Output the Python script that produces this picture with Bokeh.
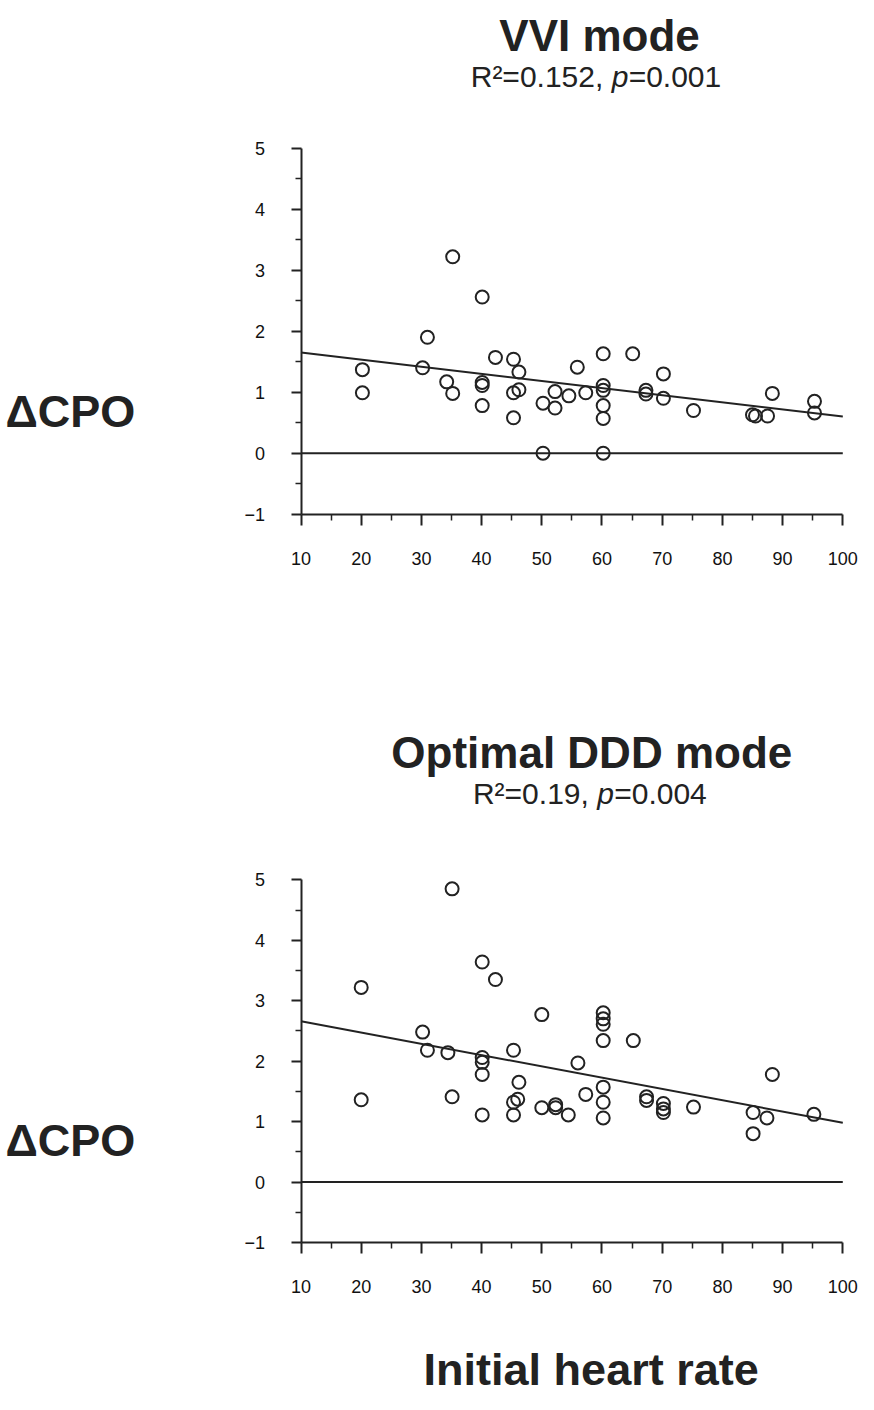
from bokeh.plotting import figure
from bokeh.models import Label, FixedTicker, Range1d, LinearAxis
from bokeh.layouts import column
from bokeh.embed import file_html
from bokeh.resources import INLINE

FONT = "Liberation Sans"
INK = "#222222"

x_ticks = [10, 20, 30, 40, 50, 60, 70, 80, 90, 100]
x_minor = [15, 25, 35, 45, 55, 65, 75, 85, 95]
y_ticks = [-1, 0, 1, 2, 3, 4, 5]
y_minor = [-0.5, 0.5, 1.5, 2.5, 3.5, 4.5]

# VVI mode panel
vvi_hr = [20.2, 20.2, 30.2, 31.0, 34.2, 35.2, 35.2, 40.1, 40.1, 40.1, 40.1,
          42.3, 45.3, 45.3, 45.3, 46.2, 46.2, 50.2, 50.2, 52.2, 52.2, 54.5,
          55.9, 57.3, 60.2, 60.2, 60.2, 60.2, 60.2, 60.2, 65.1, 67.3, 67.3,
          70.2, 70.2, 75.2, 85.0, 85.5, 87.5, 88.3, 95.3, 95.3]
vvi_dcpo = [1.37, 0.99, 1.40, 1.90, 1.17, 3.22, 0.98, 2.56, 1.16, 1.11, 0.78,
            1.57, 1.54, 0.99, 0.58, 1.33, 1.04, 0.82, 0.0, 1.01, 0.74, 0.94,
            1.41, 0.99, 1.63, 1.11, 1.03, 0.78, 0.57, 0.0, 1.63, 1.03, 0.97,
            1.30, 0.90, 0.70, 0.63, 0.61, 0.61, 0.98, 0.85, 0.66]
vvi_fit_hr = [10, 100]
vvi_fit_dcpo = [1.65, 0.60]

# Optimal DDD mode panel
ddd_hr = [20.0, 20.0, 35.1, 35.1, 30.2, 31.0, 34.4, 40.1, 40.1, 40.1, 40.1,
          40.1, 42.3, 45.3, 45.3, 45.3, 46.2, 46.0, 50.0, 50.0, 52.3, 52.3,
          54.4, 56.0, 57.3, 60.2, 60.2, 60.2, 60.2, 60.2, 60.2, 60.2, 65.2,
          67.4, 67.4, 70.2, 70.2, 70.2, 75.2, 85.1, 85.1, 87.4, 88.3, 95.2]
ddd_dcpo = [3.22, 1.36, 4.85, 1.41, 2.48, 2.18, 2.14, 3.64, 2.06, 1.98, 1.78,
            1.11, 3.35, 2.18, 1.32, 1.11, 1.65, 1.37, 2.77, 1.23, 1.28, 1.23,
            1.11, 1.97, 1.45, 2.80, 2.70, 2.61, 2.34, 1.57, 1.32, 1.06, 2.34,
            1.41, 1.35, 1.30, 1.21, 1.15, 1.24, 1.15, 0.80, 1.06, 1.78, 1.12]
ddd_fit_hr = [10, 100]
ddd_fit_dcpo = [2.66, 0.98]

titles = ["VVI mode", "Optimal DDD mode"]
stats_a = ["R\u00b2=0.152, ", "R\u00b2=0.19, "]
stats_p = ["p", "p"]
stats_b = ["=0.001", "=0.004"]
y_label = "\u0394CPO"
x_label = "Initial heart rate"

X_AXIS = (10, 100)
Y_AXIS = (-1, 5)
X_VIEW = (-39.92, 102.61)


def make_panel(hr, dcpo, fit_x, fit_y, title, sa, sp, sb, height,
               yr, title_pos, stat_pos, ylab_y, xlabel_y=None):
    p = figure(width=858, height=height, output_backend="svg",
               toolbar_location=None,
               x_range=Range1d(*X_VIEW), y_range=Range1d(*yr),
               x_axis_location=None, y_axis_location=None,
               min_border_left=0, min_border_right=0,
               min_border_top=0, min_border_bottom=0)
    p.outline_line_color = None
    p.grid.visible = False
    p.background_fill_color = "white"
    p.border_fill_color = "white"

    xaxis = LinearAxis(fixed_location=Y_AXIS[0], bounds=X_AXIS,
                       ticker=FixedTicker(ticks=x_ticks, minor_ticks=x_minor))
    yaxis = LinearAxis(fixed_location=X_AXIS[0], bounds=Y_AXIS,
                       ticker=FixedTicker(ticks=y_ticks, minor_ticks=y_minor))
    for ax in (xaxis, yaxis):
        ax.axis_line_width = 2
        ax.axis_line_color = INK
        ax.major_tick_line_width = 2
        ax.minor_tick_line_width = 1.5
        ax.major_tick_line_color = INK
        ax.minor_tick_line_color = INK
        ax.major_tick_in = 0
        ax.minor_tick_in = 0
        ax.major_label_text_font = FONT
        ax.major_label_text_font_size = "18px"
        ax.major_label_text_color = "#111111"
    xaxis.major_tick_out = 11
    xaxis.minor_tick_out = 6
    xaxis.major_label_standoff = 27
    yaxis.major_tick_out = 10
    yaxis.minor_tick_out = 6
    yaxis.major_label_standoff = 26
    p.add_layout(xaxis, "below")
    p.add_layout(yaxis, "left")

    # zero reference line across the axis extent
    p.line(list(X_AXIS), [0, 0], line_color=INK, line_width=2)
    p.line(fit_x, fit_y, line_color=INK, line_width=2)
    p.scatter(hr, dcpo, marker="circle", size=13, fill_color=None,
              line_color=INK, line_width=2)

    p.add_layout(Label(x=title_pos[0], y=title_pos[1], text=title,
                       text_font=FONT, text_font_style="bold",
                       text_font_size="44px", text_align="center",
                       text_baseline="alphabetic", text_color=INK))
    sx, sy = stat_pos
    common = dict(y=sy, text_font=FONT, text_font_size="30px",
                  text_baseline="alphabetic", text_color=INK)
    p.add_layout(Label(x=sx, text=sa, text_align="right", **common))
    p.add_layout(Label(x=sx, text=sp, text_align="left",
                       text_font_style="italic", **common))
    p.add_layout(Label(x=sx, x_offset=17, text=sb, text_align="left",
                       **common))
    p.add_layout(Label(x=-39.1, y=ylab_y, text=y_label, text_font=FONT,
                       text_font_style="bold", text_font_size="45px",
                       text_align="left", text_baseline="alphabetic",
                       text_color=INK))
    if xlabel_y is not None:
        p.add_layout(Label(x=58.2, y=xlabel_y, text=x_label, text_font=FONT,
                           text_font_style="bold", text_font_size="45px",
                           text_align="center", text_baseline="alphabetic",
                           text_color=INK))
    return p


p1 = make_panel(vvi_hr, vvi_dcpo, vvi_fit_hr, vvi_fit_dcpo, titles[0],
                stats_a[0], stats_p[0], stats_b[0], 680,
                (-3.726, 7.421), (59.6, 6.847), (61.6, 6.175), 0.68)
p2 = make_panel(ddd_hr, ddd_dcpo, ddd_fit_hr, ddd_fit_dcpo, titles[1],
                stats_a[1], stats_p[1], stats_b[1], 714,
                (-3.515, 8.297), (58.3, 7.104), (59.2, 6.426), 0.687,
                xlabel_y=-3.10)

layout = column(p1, p2, spacing=0)
open("out.html", "w").write(file_html(layout, INLINE))
